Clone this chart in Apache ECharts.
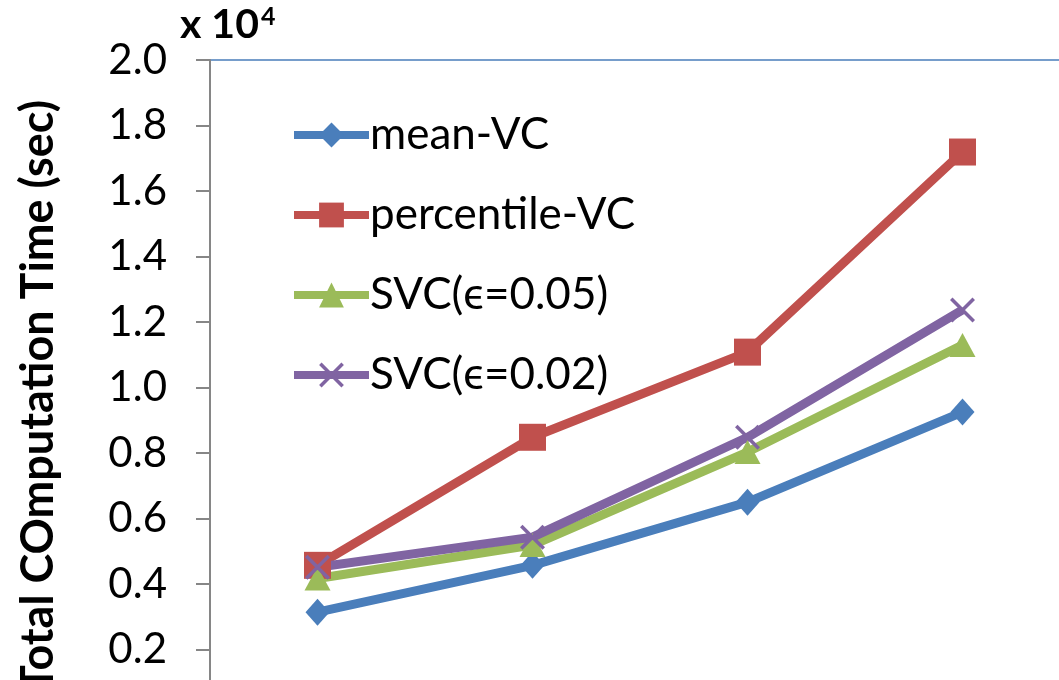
<!DOCTYPE html>
<html>
<head>
<meta charset="utf-8">
<script src="https://cdn.jsdelivr.net/npm/echarts@6/dist/echarts.min.js"></script>
<style>
  html, body { margin: 0; padding: 0; background: #fff; overflow: hidden; width: 1059px; height: 680px; }
  #chart { width: 1100px; height: 720px; }
</style>
</head>
<body>
<div id="chart"></div>
<script>
// Total computation time, in units of 10^4 seconds
const categories = ['1', '2', '3', '4'];
const meanVC = [0.314, 0.457, 0.650, 0.925];
const percentileVC = [0.457, 0.848, 1.108, 1.719];
const svc005 = [0.417, 0.519, 0.803, 1.130];
const svc002 = [0.451, 0.543, 0.848, 1.237];
const seriesNames = ['mean-VC', 'percentile-VC', 'SVC(\u03F5=0.05)', 'SVC(\u03F5=0.02)'];
const yTicks = { min: 0, max: 2.0, step: 0.2 };

const FONT = 'Lato, "Open Sans", sans-serif';
// thin "x" marker drawn as two crossed bars
const crossPath = 'path://M0,1 L1,0 L10,9 L9,10 Z M9,0 L10,1 L1,10 L0,9 Z';

function lineSeries(name, data, color, symbol, size) {
  return {
    name: name,
    type: 'line',
    data: data,
    symbol: symbol,
    symbolSize: size,
    showAllSymbol: true,
    lineStyle: { color: color, width: 9 },
    itemStyle: { color: color },
    emphasis: { disabled: true },
    z: 3
  };
}

const chart = echarts.init(document.getElementById('chart'), null, { renderer: 'canvas' });
chart.setOption({
  animation: false,
  backgroundColor: '#ffffff',
  grid: {
    left: 210, top: 60, right: 30, bottom: 5,
    outerBoundsMode: 'none',
    containLabel: false,
    show: true, borderColor: '#4a7ebb', borderWidth: 1.5
  },
  legend: {
    orient: 'vertical',
    left: 290, top: 113,
    padding: 0,
    itemWidth: 75, itemHeight: 31, itemGap: 36,
    lineStyle: { width: 8 },
    textStyle: { fontFamily: FONT, fontSize: 44, color: '#000', padding: [0, 0, 0, -4] },
    data: seriesNames
  },
  xAxis: {
    type: 'category',
    data: categories,
    boundaryGap: true,
    axisLine: { show: false },
    axisTick: { show: false },
    axisLabel: { show: false }
  },
  yAxis: {
    type: 'value',
    min: yTicks.min, max: yTicks.max, interval: yTicks.step,
    axisLine: { show: true, lineStyle: { color: '#868686', width: 2 } },
    axisTick: { show: true, length: 14, lineStyle: { color: '#868686', width: 2 } },
    splitLine: { show: false },
    axisLabel: {
      margin: 43,
      fontFamily: FONT, fontSize: 42, color: '#000',
      formatter: v => v.toFixed(1)
    }
  },
  graphic: [
    {
      type: 'text',
      left: 180, top: 4,
      style: {
        text: 'x 10{sup|4}',
        fontFamily: FONT, fontSize: 41, fontWeight: 'bold', fill: '#000',
        rich: { sup: { fontFamily: FONT, fontSize: 25, fontWeight: 'bold', fill: '#000', verticalAlign: 'top', padding: [0, 0, 16, 2] } }
      }
    },
    {
      type: 'text',
      x: 38, y: 396,
      rotation: Math.PI / 2,
      style: {
        text: 'Total COmputation Time (sec)',
        fontFamily: FONT, fontSize: 45, fontWeight: 'bold', fill: '#000',
        align: 'center', verticalAlign: 'middle'
      }
    }
  ],
  series: [
    lineSeries(seriesNames[0], meanVC, '#4a7ebb', 'diamond', [24, 27]),
    lineSeries(seriesNames[1], percentileVC, '#c0504d', 'rect', 27),
    lineSeries(seriesNames[2], svc005, '#9bbb59', 'triangle', [26, 24]),
    lineSeries(seriesNames[3], svc002, '#8064a2', crossPath, 25)
  ]
});
</script>
</body>
</html>
